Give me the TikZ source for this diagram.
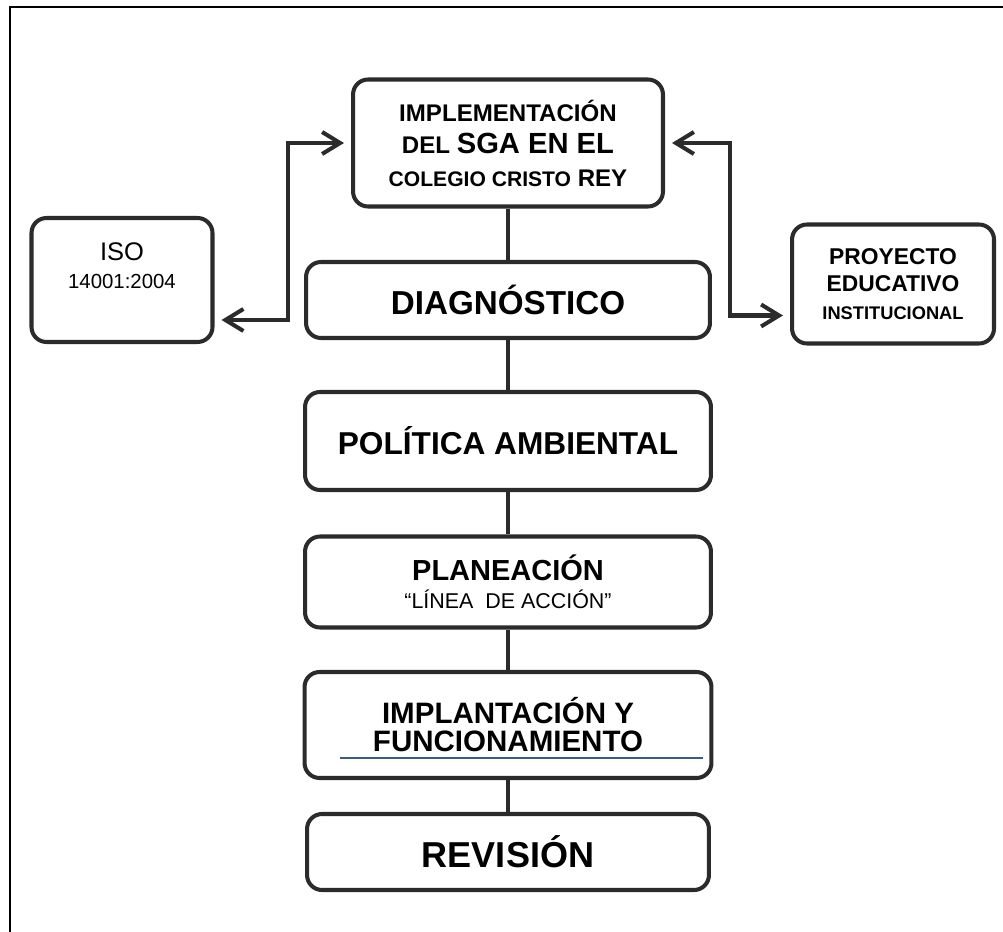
\documentclass[tikz,border=0pt]{standalone}
\usepackage{fontspec}
\setmainfont{Liberation Sans}
\usetikzlibrary{arrows.meta}
\definecolor{boxgray}{HTML}{2B2B2B}
\definecolor{lineblue}{HTML}{3B5B8C}

\begin{document}
\begin{tikzpicture}[x=0.02cm,y=-0.02cm,
  caja/.style={draw=boxgray,line width=2.3pt,rounded corners=0.3cm,inner sep=0pt,align=center,font=\bfseries},
  enlace/.style={draw=boxgray,line width=2.3pt},
  flecha/.style={draw=boxgray,line width=2.3pt,
    {Straight Barb[length=3.6mm,width=4.4mm]}-{Straight Barb[length=3.6mm,width=4.4mm]},
    shorten <=4pt,shorten >=4pt}]
\useasboundingbox (0,0) rectangle (1003,932);
\path[draw,line width=1.7pt] (1003,7) -- (10,7) -- (10,932);

\node[caja,minimum width=6.2cm,minimum height=2.54cm,font=\bfseries\fontsize{13.7}{18.5}\selectfont] (sga) at (508,143)
  {IMPLEMENTACIÓN\\
   DEL {\fontsize{16.6}{18}\selectfont SGA EN EL}\\
   {\fontsize{12}{18}\selectfont COLEGIO CRISTO} REY};
\node[caja,minimum width=3.62cm,minimum height=2.48cm] (iso) at (122,280) {};
\node[align=center,font=\fontsize{14.5}{16}\selectfont] (isotxt) at ([yshift=0.28cm]iso.center)
  {ISO\\ {\fontsize{11.6}{14}\selectfont 14001:2004}};
\node[caja,minimum width=4.04cm,minimum height=2.38cm,font=\bfseries\fontsize{13}{15.5}\selectfont] (pei) at (893,284)
  {PROYECTO\\ EDUCATIVO\\ {\fontsize{10.4}{14.5}\selectfont INSTITUCIONAL}};

\node[caja,minimum width=8.08cm,minimum height=1.52cm,font=\bfseries\fontsize{18.9}{22}\selectfont] (diag) at (508,300) {DIAGNÓSTICO};
\node[caja,minimum width=8.12cm,minimum height=1.96cm,font=\bfseries\fontsize{18}{22}\selectfont] (pol) at (508,441) {POLÍTICA AMBIENTAL};
\node[caja,minimum width=8.12cm,minimum height=1.82cm,font=\bfseries\fontsize{16.5}{16}\selectfont] (plan) at (508,582)
  {PLANEACIÓN\\ {\mdseries\fontsize{12.2}{16}\selectfont “LÍNEA \ DE ACCIÓN”}};
\node[caja,minimum width=8.14cm,minimum height=2.12cm,font=\bfseries\fontsize{16.8}{16}\selectfont] (impl) at (508,725)
  {IMPLANTACIÓN Y\\ FUNCIONAMIENTO};
\node[caja,minimum width=8.04cm,minimum height=1.52cm,font=\bfseries\fontsize{20.5}{24}\selectfont] (rev) at (508,852) {REVISIÓN};

\path[draw,enlace] (sga) -- (diag);
\path[draw,enlace] (diag) -- (pol);
\path[draw,enlace] (pol) -- (plan);
\path[draw,enlace] (plan) -- (impl);
\path[draw,enlace] (impl) -- (rev);

\path[flecha] (sga.west) -- ++(-63,0) |- ([yshift=-0.8cm]iso.east);
\path[flecha] (sga.east) -- ++(65,0) |- ([yshift=-0.63cm]pei.west);

\path[draw,lineblue,line width=0.9pt] (340,758) -- (703,758);
\end{tikzpicture}
\end{document}
